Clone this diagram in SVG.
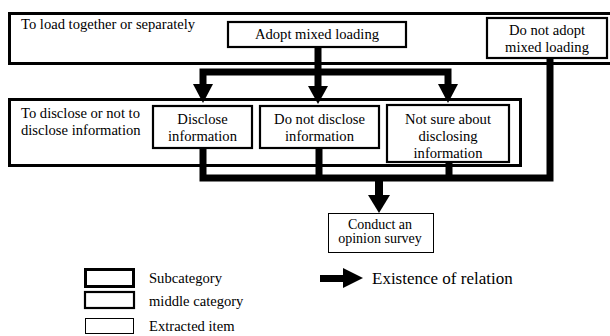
<svg xmlns="http://www.w3.org/2000/svg" width="610" height="336" viewBox="0 0 610 336" font-family="'Liberation Serif', 'Times New Roman', serif">
<style>
text{font-family:'Liberation Serif','Times New Roman',serif;font-size:14.6px;fill:#000}
.c{text-anchor:middle}
.sm{font-size:14px}
.big{font-size:17px}
.sub{fill:#fff;stroke:#000;stroke-width:3}
.mid{fill:#fff;stroke:#000;stroke-width:2.2}
.item{fill:#fff;stroke:#000;stroke-width:1}
.ln{fill:none;stroke:#000;stroke-width:7}
.ah{fill:#000}
</style>
<rect width="610" height="336" fill="#fff"/>
<g id="sub-load">
<rect class="sub" x="9.5" y="13.5" width="604" height="50"/>
<text x="21" y="29">To load together or separately</text>
</g>
<g id="adopt">
<rect class="mid" x="228" y="22" width="178" height="25"/>
<text class="c" x="317" y="38.5">Adopt mixed loading</text>
</g>
<g id="notadopt">
<rect class="mid" x="487" y="18" width="120" height="40"/>
<text class="c" x="547" y="35">Do not adopt</text>
<text class="c" x="547" y="52">mixed loading</text>
</g>
<g id="sub-disclose">
<rect class="sub" x="9.5" y="99.5" width="511" height="66"/>
<text x="21" y="118">To disclose or not to</text>
<text x="21" y="135">disclose information</text>
</g>
<g id="disclose">
<rect class="mid" x="153" y="106" width="99" height="42"/>
<text class="c" x="202.5" y="124">Disclose</text>
<text class="c" x="202.5" y="141">information</text>
</g>
<g id="notdisclose">
<rect class="mid" x="260" y="106" width="119" height="42"/>
<text class="c" x="319.5" y="124">Do not disclose</text>
<text class="c" x="319.5" y="141">information</text>
</g>
<g id="notsure">
<rect class="mid" x="387" y="105" width="122" height="57"/>
<text class="c" x="448" y="124">Not sure about</text>
<text class="c" x="448" y="141">disclosing</text>
<text class="c" x="448" y="158">information</text>
</g>
<g id="survey">
<rect class="item" x="328.5" y="213.5" width="105" height="39"/>
<text class="c sm" x="380" y="229">Conduct an</text>
<text class="c sm" x="380" y="243">opinion survey</text>
</g>
<g id="connectors">
<path class="ln" d="M318,47 V88"/>
<path class="ln" d="M203,86 V72 H448 V86"/>
<polygon class="ah" points="308,86 328,86 318,104"/>
<polygon class="ah" points="193,84 213,84 203,103"/>
<polygon class="ah" points="438,84 458,84 448,103"/>
<path class="ln" d="M203,148 V178 H550 V58"/>
<path class="ln" d="M319,148 V178"/>
<path class="ln" d="M449,162 V178"/>
<path class="ln" d="M379,178 V197" style="stroke-width:8"/>
<polygon class="ah" points="368,195 390,195 379,213"/>
</g>
<g id="legend">
<rect class="sub" x="85.5" y="269.5" width="48" height="17"/>
<rect class="mid" x="85" y="292" width="49" height="16"/>
<rect class="item" x="85.5" y="318.5" width="48" height="15"/>
<text x="149" y="283">Subcategory</text>
<text x="149" y="306">middle category</text>
<text x="149" y="331">Extracted item</text>
<rect x="320" y="275" width="25" height="7" fill="#000"/>
<polygon class="ah" points="343,268 363,278 343,288"/>
<text class="big" x="372" y="284">Existence of relation</text>
</g>
</svg>
